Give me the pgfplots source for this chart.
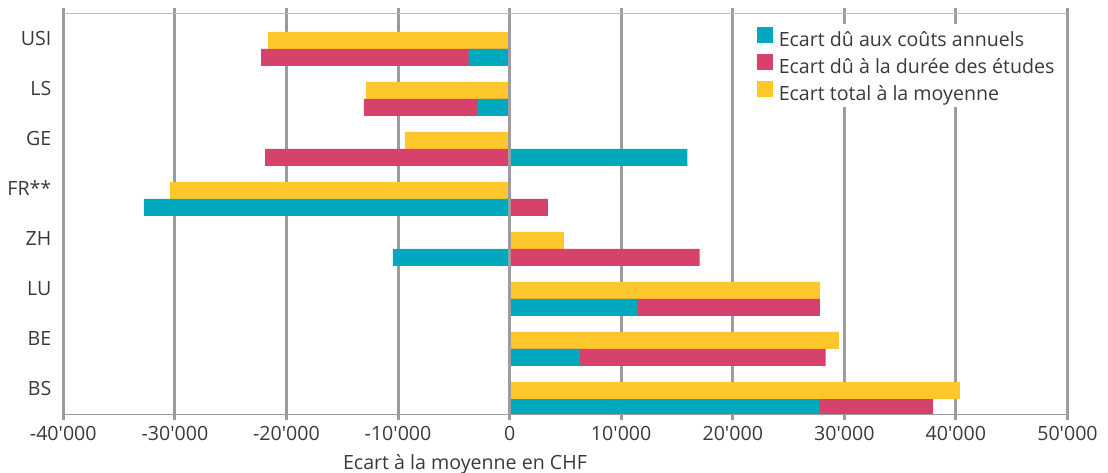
\documentclass[border=0pt]{standalone}
\usepackage{pgfplots}
\usepackage{pgfplotstable}
\pgfplotsset{compat=1.18}
\usepackage{fontspec}
\newfontfamily\chartfont{Open Sans}
\definecolor{cteal}{HTML}{00A9BE}
\definecolor{cpink}{HTML}{D7426D}
\definecolor{cyell}{HTML}{FEC82D}
\definecolor{gridgray}{HTML}{9C9CA0}
\definecolor{topgray}{HTML}{BDBDBF}
\definecolor{txt}{HTML}{3A3A3A}

% y: category position (BS=0 ... USI=7); teal = cost component, pink = duration component, total = total gap
\pgfplotstableread{
cat y teal pink total
USI 7 -3680 -18600 -21650
LS 6 -2840 -10210 -12870
GE 5 15940 -21920 -9380
FR 4 -32770 3430 -30440
ZH 3 -10460 17040 4870
LU 2 11460 16340 27800
BE 1 6300 22030 29500
BS 0 27760 10170 40350
}\data

\begin{document}
\chartfont\fontsize{9.8}{11}\selectfont
\begin{tikzpicture}
\begin{axis}[
  at={(0,0)}, anchor=south west,
  scale only axis,
  width=502.1pt, height=200.6pt,
  xmin=-40000, xmax=50000,
  ymin=-0.31, ymax=7.713,
  axis line style={draw=none},
  xtick={-40000,-30000,...,50000},
  scaled x ticks=false,
  xmajorgrids,
  major grid style={gridgray, line width=1.5pt},
  xtick align=outside,
  major tick length=2.6pt,
  x tick style={gridgray, line width=1.5pt},
  y tick style={draw=none},
  /pgf/number format/assume math mode=true,
  xticklabel={\pgfmathprintnumber[fixed,1000 sep={'}]{\tick}},
  xticklabel style={inner sep=0pt, anchor=north, yshift=-3.2pt, text=txt},
  ytick={0.213,1.213,2.213,3.213,4.213,5.213,6.213,7.213},
  yticklabels={BS,BE,LU,ZH,FR**,GE,LS,USI},
  yticklabel style={inner sep=0pt, anchor=east, xshift=-3.2pt, text=txt},
  xlabel={Ecart à la moyenne en CHF},
  xlabel style={at={(rel axis cs:0.4,0)}, anchor=base, yshift=-27.5pt, inner sep=0pt, text=txt},
  xbar, bar shift=0pt, bar width=0.34,
  legend cell align=left,
  legend image code/.code={\fill[#1] (0pt,-0.52pt) rectangle (7.7pt,7.18pt);},
  legend style={at={(rel axis cs:0.6824,0.974)}, anchor=north west,
    fill=white, draw=none, inner xsep=4pt, inner ysep=1.2pt,
    row sep=1.7pt, column sep=2.8pt,
    nodes={inner sep=0pt, text height=7pt, text depth=2pt, text=txt}},
]
\addlegendimage{cteal}
\addlegendentry{Ecart dû aux coûts annuels}
\addlegendimage{cpink}
\addlegendentry{Ecart dû à la durée des études}
\addlegendimage{cyell}
\addlegendentry{Ecart total à la moyenne}

% total gap bars (upper row of each category)
\addplot[forget plot, fill=cyell, draw=none]
  table[x=total, y expr=\thisrow{y}+0.17] {\data};
% duration component, stacked after the cost component when both have the same sign
\addplot[forget plot, fill=cpink, draw=none]
  table[x expr={(\thisrow{teal}/1000)*(\thisrow{pink}/1000) > 0 ? \thisrow{teal}+\thisrow{pink} : \thisrow{pink}},
        y expr=\thisrow{y}-0.17] {\data};
% cost component
\addplot[forget plot, fill=cteal, draw=none]
  table[x=teal, y expr=\thisrow{y}-0.17] {\data};

\draw[gridgray, line width=1.5pt] (axis cs:0,-0.31) -- (axis cs:0,7.713);
\draw[gridgray, line width=1pt] (rel axis cs:0,0) -- (rel axis cs:1,0);
\draw[topgray, line width=1pt] (rel axis cs:0,1) -- (rel axis cs:1,1);
\end{axis}
\pgfresetboundingbox
\path[use as bounding box] (-31.65pt,-28.75pt) rectangle (522.35pt,207.25pt);
\end{tikzpicture}
\end{document}
